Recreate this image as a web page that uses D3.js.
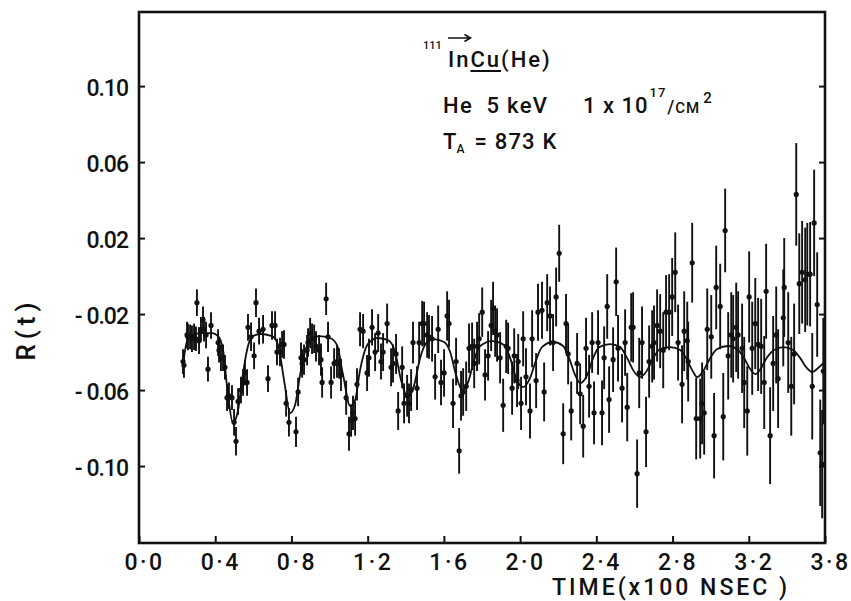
<!doctype html>
<html>
<head>
<meta charset="utf-8">
<title>R(t) 111In Cu(He)</title>
<script src="https://cdnjs.cloudflare.com/ajax/libs/d3/7.8.5/d3.min.js"></script>
<style>
  body { margin: 0; background: #fff; }
  svg text { font-family: Roboto, "DejaVu Sans", sans-serif; fill: #111; }
</style>
</head>
<body>
<div id="chart"></div>
<script>
// measured points: time (x100 ns), R(t), error
const timeVals = [
  0.231,0.236,0.252,0.257,0.268,0.278,0.289,0.299,0.304,0.315,0.325,0.336,0.341,0.352,0.362,0.378,
  0.415,0.420,0.430,0.441,0.451,0.462,0.472,0.488,0.499,0.509,0.520,0.535,0.546,0.556,0.567,0.572,
  0.588,0.604,0.614,0.630,0.651,0.677,0.698,0.714,0.724,0.740,0.751,0.761,0.772,0.787,0.824,0.835,
  0.850,0.856,0.866,0.882,0.887,0.898,0.908,0.919,0.929,0.945,0.955,0.961,0.982,0.992,1.008,1.024,
  1.039,1.050,1.060,1.087,1.102,1.113,1.123,1.134,1.144,1.160,1.176,1.197,
  1.207,1.223,1.239,1.255,1.270,1.281,1.302,1.323,1.333,1.349,1.360,1.381,1.391,1.407,1.417,1.428,
  1.438,1.459,1.470,1.486,1.496,1.512,1.522,1.538,1.554,1.570,1.585,1.601,1.617,1.627,1.648,1.664,
  1.680,1.690,1.701,1.717,1.732,1.748,1.759,1.774,1.785,1.801,1.816,1.832,1.848,1.858,1.869,1.879,
  1.895,1.911,1.927,1.937,1.958,1.969,1.984,1.990,2.005,2.016,2.031,2.052,2.063,2.084,2.094,2.115,
  2.126,2.142,2.157,2.173,2.189,2.205,2.226,2.241,2.252,2.268,2.299,2.315,2.331,2.346,2.362,2.378,
  2.388,2.409,
  2.430,2.441,2.457,2.467,2.488,2.504,2.514,2.535,2.551,2.562,2.583,2.593,2.614,2.625,2.640,2.661,
  2.677,2.693,2.703,2.719,2.735,2.751,2.766,2.782,2.798,2.814,2.829,2.850,2.861,2.877,2.882,2.903,
  2.924,2.945,2.955,2.966,2.982,3.003,3.018,3.029,3.050,3.066,3.076,3.092,3.108,3.118,3.134,3.144,
  3.165,3.176,3.192,3.202,3.218,3.234,3.249,3.265,3.281,3.291,3.312,3.328,3.344,3.354,3.381,3.386,
  3.407,3.423,3.438,3.449,3.465,3.480,3.496,3.507,3.522,3.533,3.543,3.559,3.575,3.585,3.591
];
const rVals = [
  -0.045,-0.047,-0.031,-0.032,-0.032,-0.033,-0.032,-0.033,-0.014,-0.034,-0.028,-0.023,-0.028,-0.031,-0.049,-0.026,
  -0.035,-0.039,-0.043,-0.043,-0.048,-0.064,-0.063,-0.064,-0.077,-0.087,-0.066,-0.060,-0.056,-0.051,-0.056,-0.027,
  -0.032,-0.042,-0.014,-0.029,-0.028,-0.054,-0.026,-0.026,-0.040,-0.040,-0.036,-0.036,-0.067,-0.077,-0.082,-0.061,
  -0.043,-0.046,-0.044,-0.039,-0.035,-0.030,-0.033,-0.033,-0.037,-0.039,-0.044,-0.056,-0.012,-0.032,-0.056,-0.046,
  -0.045,-0.046,-0.052,-0.064,-0.083,-0.076,-0.072,-0.075,-0.057,-0.028,-0.029,-0.051,
  -0.043,-0.027,-0.040,-0.030,-0.045,-0.040,-0.025,-0.048,-0.046,-0.041,-0.071,-0.048,-0.067,-0.063,-0.067,-0.060,
  -0.035,-0.059,-0.035,-0.025,-0.025,-0.031,-0.032,-0.033,-0.053,-0.028,-0.056,-0.051,-0.021,-0.025,-0.067,-0.045,
  -0.092,-0.063,-0.061,-0.058,-0.038,-0.037,-0.046,-0.037,-0.033,-0.019,-0.052,-0.042,-0.026,-0.017,-0.029,-0.031,
  -0.043,-0.068,-0.037,-0.038,-0.059,-0.042,-0.055,-0.045,-0.067,-0.033,-0.053,-0.071,-0.033,-0.055,-0.019,-0.018,
  -0.061,-0.014,-0.021,-0.035,-0.011,0.012,-0.083,-0.025,-0.041,-0.071,-0.046,-0.062,-0.079,-0.038,-0.058,-0.035,
  -0.072,-0.035,
  -0.072,-0.043,-0.016,-0.065,-0.044,-0.003,-0.038,-0.059,-0.035,-0.069,-0.027,-0.027,-0.104,-0.051,-0.035,-0.082,
  -0.045,-0.037,-0.035,-0.026,-0.029,-0.039,-0.019,-0.019,-0.011,0.002,-0.035,-0.057,-0.029,-0.034,-0.045,0.007,
  -0.075,-0.075,-0.067,-0.072,-0.028,-0.032,-0.084,-0.006,-0.016,-0.074,0.024,-0.042,-0.031,-0.033,-0.027,-0.031,
  -0.038,-0.056,-0.071,-0.011,-0.038,-0.025,-0.036,-0.037,-0.056,-0.008,-0.084,-0.046,-0.031,-0.054,-0.022,-0.006,
  -0.035,-0.058,-0.041,0.043,-0.004,0.002,-0.002,0.001,0.001,-0.058,0.028,-0.015,-0.093,-0.099,-0.050
];
const errVals = [
  0.0065,0.0065,0.007,0.007,0.0065,0.007,0.007,0.0065,0.007,0.007,0.0065,0.007,0.0065,0.007,0.0065,0.007,
  0.007,0.0065,0.007,0.007,0.0065,0.007,0.007,0.0065,0.007,0.0075,0.007,0.007,0.007,0.0065,0.007,0.007,
  0.0075,0.007,0.0075,0.007,0.0075,0.007,0.0075,0.0075,0.007,0.0075,0.007,0.0075,0.007,0.0075,0.008,0.0075,
  0.008,0.0075,0.008,0.008,0.0075,0.008,0.008,0.0075,0.008,0.008,0.0085,0.008,0.0085,0.008,0.0085,0.008,
  0.0085,0.008,0.0085,0.009,0.009,0.0085,0.009,0.009,0.0085,0.009,0.009,0.0095,
  0.010,0.0095,0.010,0.010,0.0095,0.010,0.0105,0.010,0.010,0.0105,0.010,0.011,0.0105,0.011,0.0105,0.011,
  0.011,0.0115,0.011,0.012,0.0115,0.012,0.0115,0.012,0.012,0.0125,0.012,0.0125,0.013,0.0125,0.013,0.0125,
  0.012,0.013,0.0125,0.013,0.013,0.0125,0.013,0.013,0.0135,0.013,0.0135,0.013,0.0135,0.014,0.0135,0.014,
  0.0135,0.014,0.014,0.0135,0.014,0.0145,0.014,0.0145,0.014,0.0145,0.015,0.0145,0.015,0.0145,0.015,0.015,
  0.0155,0.015,0.0155,0.015,0.0155,0.015,0.016,0.0155,0.016,0.0155,0.016,0.016,0.0165,0.016,0.0165,0.016,
  0.0165,0.017,
  0.017,0.0165,0.017,0.0175,0.017,0.018,0.0175,0.018,0.0175,0.018,0.018,0.0185,0.018,0.0185,0.019,0.0185,
  0.019,0.019,0.0195,0.019,0.0195,0.020,0.0195,0.020,0.0205,0.021,0.020,0.0205,0.021,0.0205,0.021,0.021,
  0.0215,0.021,0.0215,0.022,0.0215,0.022,0.0225,0.022,0.0225,0.023,0.022,0.023,0.0225,0.023,0.0235,0.023,
  0.0235,0.024,0.0235,0.024,0.0245,0.024,0.0245,0.025,0.0245,0.025,0.0255,0.025,0.0255,0.026,0.0255,0.026,
  0.0265,0.026,0.0265,0.027,0.0265,0.027,0.0275,0.027,0.0275,0.028,0.028,0.0275,0.028,0.0285,0.028
];

// fitted curve
const fitTime = [
  0.231,0.247,0.268,0.320,0.383,0.415,0.441,0.467,0.493,0.520,0.541,0.567,0.593,0.635,0.698,0.730,
  0.761,0.793,0.819,0.845,0.877,0.908,0.945,1.003,1.039,1.071,1.108,1.134,1.160,1.192,1.223,1.249,
  1.307,1.344,1.375,1.412,1.444,1.475,1.507,1.543,1.601,1.633,1.664,1.696,1.727,1.759,1.790,1.853,
  1.916,1.948,1.979,2.016,2.052,2.084,2.115,2.173,2.226,2.257,2.289,2.315,2.352,2.383,2.415,2.472,
  2.525,2.562,2.593,2.630,2.667,2.698,2.735,2.787,2.840,2.871,2.903,2.929,2.961,2.997,3.034,3.092,
  3.144,3.176,3.207,3.234,3.265,3.297,3.333,3.381,3.433,3.470,3.501,3.533,3.564,3.591
];
const fitR = [
  -0.0463,-0.0363,-0.0316,-0.0300,-0.0300,-0.0316,-0.0389,-0.0626,-0.0774,-0.0705,-0.0547,-0.0389,-0.0321,-0.0305,-0.0316,-0.0363,
  -0.0547,-0.0721,-0.0679,-0.0521,-0.0379,-0.0326,-0.0316,-0.0326,-0.0363,-0.0521,-0.0684,-0.0653,-0.0495,-0.0374,-0.0337,-0.0326,
  -0.0337,-0.0400,-0.0547,-0.0637,-0.0574,-0.0432,-0.0353,-0.0332,-0.0347,-0.0400,-0.0521,-0.0600,-0.0558,-0.0442,-0.0368,-0.0342,
  -0.0363,-0.0432,-0.0537,-0.0584,-0.0537,-0.0442,-0.0374,-0.0347,-0.0368,-0.0432,-0.0521,-0.0563,-0.0521,-0.0432,-0.0374,-0.0358,
  -0.0374,-0.0432,-0.0495,-0.0532,-0.0495,-0.0432,-0.0384,-0.0374,-0.0389,-0.0432,-0.0495,-0.0532,-0.0500,-0.0432,-0.0384,-0.0368,
  -0.0389,-0.0432,-0.0489,-0.0516,-0.0484,-0.0426,-0.0389,-0.0374,-0.0389,-0.0432,-0.0479,-0.0505,-0.0484,-0.0458
];

// axes as printed (the last label on the figure reads 3.8 at the frame edge)
const xTickVals = [0, 0.4, 0.8, 1.2, 1.6, 2.0, 2.4, 2.8, 3.2, 3.6];
const xTickLabels = ["0·0","0·4","0·8","1·2","1·6","2·0","2·4","2·8","3·2","3·8"];
const yTickVals = [0.10, 0.06, 0.02, -0.02, -0.06, -0.10];
const yTickLabels = ["0.10","0.06","0.02","- 0.02","- 0.06","- 0.10"];

const W = 851, H = 601;
const mLeft = 139, mRight = 825, mTop = 12, mBottom = 543;

const svg = d3.select("#chart").append("svg")
  .attr("width", W).attr("height", H);

const x = d3.scaleLinear().domain([0, 3.6]).range([mLeft, mRight]);
const y = d3.scaleLinear().domain([-0.1405, 0.139]).range([mBottom, mTop]);

const ink = "#111";

// y ticks, left side
const yAxis = svg.append("g")
  .attr("transform", `translate(${mLeft},0)`)
  .call(d3.axisLeft(y).tickValues(yTickVals).tickSize(-6).tickPadding(11)
    .tickFormat((d, i) => yTickLabels[i]));
yAxis.select(".domain").remove();
yAxis.selectAll("line").attr("stroke", ink).attr("stroke-width", 2);
yAxis.selectAll("text")
  .attr("font-size", 23).attr("font-weight", 500)
  .attr("letter-spacing", -1).attr("dy", "0.42em")
  .attr("font-family", "Roboto, sans-serif").attr("fill", ink);

// y ticks, right side
const yAxisR = svg.append("g")
  .attr("transform", `translate(${mRight},0)`)
  .call(d3.axisRight(y).tickValues(yTickVals).tickSize(-6).tickFormat(""));
yAxisR.select(".domain").remove();
yAxisR.selectAll("line").attr("stroke", ink).attr("stroke-width", 2);

// x ticks
const xAxis = svg.append("g")
  .attr("transform", `translate(0,${mBottom})`)
  .call(d3.axisBottom(x).tickValues(xTickVals).tickSize(-7).tickPadding(10)
    .tickFormat((d, i) => xTickLabels[i]));
xAxis.select(".domain").remove();
xAxis.selectAll("line").attr("stroke", ink).attr("stroke-width", 2);
xAxis.selectAll("text")
  .attr("font-size", 23).attr("font-weight", 500)
  .attr("letter-spacing", 2.5).attr("dx", 5).attr("dy", "0.72em")
  .attr("font-family", "Roboto, sans-serif").attr("fill", ink);

// frame
svg.append("rect")
  .attr("x", mLeft).attr("y", mTop)
  .attr("width", mRight - mLeft).attr("height", mBottom - mTop)
  .attr("fill", "none").attr("stroke", ink).attr("stroke-width", 2.6);

// axis titles
svg.append("text")
  .attr("x", 552).attr("y", 595)
  .attr("font-size", 23).attr("font-weight", 500).attr("letter-spacing", 3)
  .text("TIME(x100 NSEC )");

svg.append("text")
  .attr("transform", "translate(35,329) rotate(-90)")
  .attr("text-anchor", "middle")
  .attr("font-size", 26).attr("font-weight", 500).attr("letter-spacing", 5)
  .text("R(t)");

// fitted curve
const pts = d3.range(0, fitTime.length).map(i => [fitTime[i], fitR[i]]);
const line = d3.line()
  .x(d => x(d[0])).y(d => y(d[1]))
  .curve(d3.curveMonotoneX);
svg.append("path")
  .datum(pts)
  .attr("d", line)
  .attr("fill", "none").attr("stroke", ink).attr("stroke-width", 1.8);

// data with error bars
const data = d3.range(0, timeVals.length).map(i => ({t: timeVals[i], r: rVals[i], e: errVals[i]}));
const g = svg.append("g");
g.selectAll("line.err").data(data).enter().append("line")
  .attr("class", "err")
  .attr("x1", d => x(d.t)).attr("x2", d => x(d.t))
  .attr("y1", d => y(d.r - d.e)).attr("y2", d => y(d.r + d.e))
  .attr("stroke", ink).attr("stroke-width", 1.9);
g.selectAll("circle").data(data).enter().append("circle")
  .attr("cx", d => x(d.t)).attr("cy", d => y(d.r))
  .attr("r", 2.6).attr("fill", ink);

// labels in the upper part of the frame
const lab = svg.append("g").attr("font-weight", 500);
lab.append("text").attr("x", 423).attr("y", 49).attr("font-size", 11).text("111");
const nuc = lab.append("text").attr("x", 448).attr("y", 67)
  .attr("font-size", 22).attr("letter-spacing", 2).text("InCu(He)");
const n = nuc.node();
const c0 = n.getExtentOfChar(0), c1 = n.getExtentOfChar(1);
const c2 = n.getExtentOfChar(2), c3 = n.getExtentOfChar(3);
const ax1 = c0.x, ax2 = c1.x + c1.width;
lab.append("path")
  .attr("d", `M${ax1},38H${ax2}M${ax2 - 6},34.5L${ax2},38L${ax2 - 6},41.5`)
  .attr("fill", "none").attr("stroke", ink).attr("stroke-width", 1.6);
lab.append("line")
  .attr("x1", c2.x).attr("x2", c3.x + c3.width)
  .attr("y1", 71).attr("y2", 71)
  .attr("stroke", ink).attr("stroke-width", 2);

lab.append("text").attr("x", 443).attr("y", 113).attr("font-size", 22)
  .attr("letter-spacing", 1.3).attr("xml:space", "preserve").text("He  5 keV");

const dose = lab.append("text").attr("x", 583).attr("y", 113).attr("font-size", 22)
  .attr("letter-spacing", 1).attr("xml:space", "preserve");
dose.append("tspan").text("1 x 10");
dose.append("tspan").attr("dy", -16).attr("dx", 1).attr("font-size", 13).text("17");
dose.append("tspan").attr("dy", 16).attr("dx", 1).attr("font-size", 18).text("/");
dose.append("tspan").attr("font-size", 15).text("CM");
dose.append("tspan").attr("dy", -10).attr("dx", 3).attr("font-size", 15).text("2");

const ta = lab.append("text").attr("x", 443).attr("y", 149).attr("font-size", 22)
  .attr("letter-spacing", 1.2).attr("xml:space", "preserve");
ta.append("tspan").text("T");
ta.append("tspan").attr("dy", 4).attr("dx", -1).attr("font-size", 12).text("A");
ta.append("tspan").attr("dy", -4).attr("dx", 2).text(" = 873 K");
</script>
</body>
</html>
